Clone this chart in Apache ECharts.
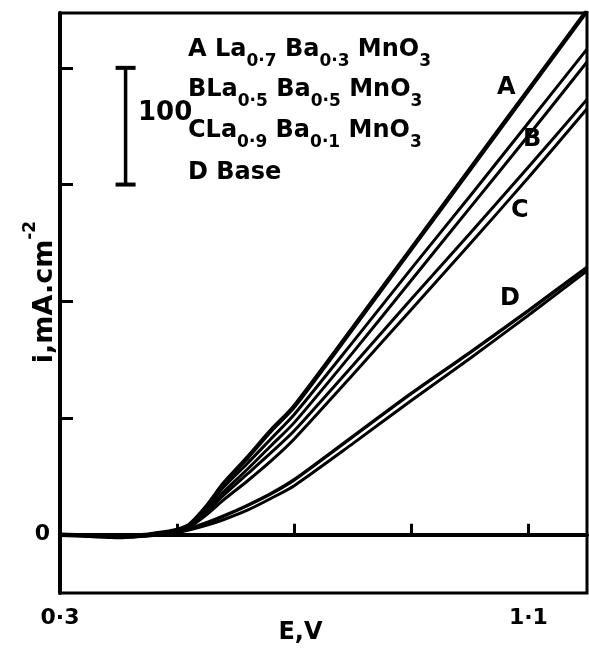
<!DOCTYPE html>
<html>
<head>
<meta charset="utf-8">
<script src="https://cdn.jsdelivr.net/npm/echarts@6/dist/echarts.min.js"></script>
<style>
  html, body { margin: 0; padding: 0; background: #fff; }
  #chart { width: 589px; height: 651px; }
</style>
</head>
<body>
<div id="chart"></div>
<script>
// E, V  (shared x values for all curves)
const volts = [0.30, 0.35, 0.40, 0.45, 0.48, 0.50, 0.52, 0.55, 0.58, 0.62, 0.66, 0.70, 0.80, 0.90, 1.00, 1.10, 1.20];

// i, mA.cm-2
const curveA  = [0, -1, -2, 0, 2, 4, 8, 24, 44, 66, 89, 110, 177, 245, 313, 381, 449];
const curveB1 = [0, -1, -2, 0, 2, 4, 8, 23, 41, 61, 82, 103, 165, 228, 290, 353, 416];
const curveB2 = [0, -1, -2, 0, 2, 3, 7, 21, 37, 56, 76, 96, 156, 218, 280, 342, 405];
const curveC1 = [0, -1, -2, 0, 2, 3, 7, 19, 34, 52, 70, 89, 145, 202, 258, 315, 373];
const curveC2 = [0, -1, -2, 0, 2, 3, 6, 17, 30, 46, 63, 82, 137, 193, 249, 306, 365];
const curveD1 = [0, -1, -2, -1, 1, 3, 5, 10, 16, 25, 35, 47, 84, 121, 156, 192, 229];
const curveD2 = [0, -1, -2, -1, 1, 2, 4, 8, 13, 21, 31, 42, 78, 115, 151, 188, 226];

// 100 mA.cm-2 scale bar
const scaleX = [0.412, 0.412];
const scaleY = [300, 400];

const xTicks = [0.3, 0.5, 0.7, 0.9, 1.1];
const xLabels = [0.3, 1.1];
const yTicks = [0, 100, 200, 300, 400];
const yLabels = [0];

const legendRows = [
  "{m|A La}{s|0·7}{m| Ba}{s|0·3}{m| MnO}{s|3}",
  "{m|BLa}{s|0·5}{m| Ba}{s|0·5}{m| MnO}{s|3}",
  "{m|CLa}{s|0·9}{m| Ba}{s|0·1}{m| MnO}{s|3}",
  "{m|D Base}"
];

const font = "DejaVu Sans";

function pairs(xs, ys) {
  return xs.map((x, i) => [x, ys[i]]);
}

function curve(name, ys, w) {
  return {
    name: name,
    type: "line",
    data: pairs(volts, ys),
    smooth: 0.25,
    symbol: "none",
    clip: true,
    lineStyle: { color: "#000", width: w }
  };
}

let mychart = echarts.init(document.getElementById("chart"));
mychart.setOption({
  animation: false,
  backgroundColor: "#fff",
  grid: {
    left: 60,
    right: 2,
    top: 13,
    bottom: 58,
    outerBoundsMode: "none",
    containLabel: false,
    show: true,
    borderColor: "#000",
    borderWidth: 3
  },
  xAxis: {
    type: "value",
    min: 0.3,
    max: 1.2,
    name: "E,V",
    nameLocation: "middle",
    nameGap: 28,
    nameMoveOverlap: false,
    nameTextStyle: { fontFamily: font, fontWeight: "bold", fontSize: 24, color: "#000", padding: [0, 46, 0, 0] },
    axisLine: { lineStyle: { color: "#000", width: 4 } },
    axisTick: { inside: true, length: 11, customValues: xTicks, lineStyle: { color: "#000", width: 3 } },
    axisLabel: {
      customValues: xLabels,
      margin: 14,
      fontFamily: font,
      fontWeight: "bold",
      fontSize: 22,
      color: "#000",
      formatter: v => String(Math.round(v * 10) / 10).replace(".", "·")
    },
    splitLine: { show: false }
  },
  yAxis: {
    type: "value",
    min: -50,
    max: 447,
    axisLine: { lineStyle: { color: "#000", width: 4 } },
    axisTick: { inside: true, length: 13, customValues: yTicks, lineStyle: { color: "#000", width: 3 } },
    axisLabel: {
      customValues: yLabels,
      margin: 10,
      fontFamily: font,
      fontWeight: "bold",
      fontSize: 22,
      color: "#000"
    },
    splitLine: { show: false }
  },
  series: [
    curve("A", curveA, 4.5),
    curve("B1", curveB1, 3),
    curve("B2", curveB2, 3),
    curve("C1", curveC1, 3),
    curve("C2", curveC2, 3),
    curve("D1", curveD1, 3.5),
    curve("D2", curveD2, 3),
    {
      name: "scale",
      type: "line",
      data: pairs(scaleX, scaleY),
      symbol: "rect",
      symbolSize: [20, 4],
      itemStyle: { color: "#000" },
      lineStyle: { color: "#000", width: 3.5 }
    }
  ],
  graphic: [
    {
      // y axis name
      type: "text",
      x: 40,
      y: 292,
      rotation: Math.PI / 2,
      style: {
        text: "{m|i,mA.cm}{p|-2}",
        align: "center",
        verticalAlign: "middle",
        rich: {
          m: { font: "bold 27px " + font, fill: "#000", lineHeight: 36, verticalAlign: "bottom" },
          p: { font: "bold 17px " + font, fill: "#000", lineHeight: 36, verticalAlign: "top" }
        }
      }
    },
    {
      type: "text",
      left: 138,
      top: 100,
      style: { text: "100", font: "bold 26px " + font, fill: "#000" }
    },
    ...legendRows.map((row, k) => ({
      type: "text",
      left: 188,
      top: [38, 78, 119, 161][k],
      style: {
        text: row,
        rich: {
          m: { font: "bold 24px " + font, fill: "#000", lineHeight: 24, verticalAlign: "top" },
          s: { font: "bold 17px " + font, fill: "#000", lineHeight: 32, verticalAlign: "bottom" }
        }
      }
    })),
    { type: "text", left: 497, top: 76, style: { text: "A", font: "bold 24px " + font, fill: "#000" } },
    { type: "text", left: 523, top: 128, style: { text: "B", font: "bold 24px " + font, fill: "#000" } },
    { type: "text", left: 511, top: 199, style: { text: "C", font: "bold 24px " + font, fill: "#000" } },
    { type: "text", left: 500, top: 287, style: { text: "D", font: "bold 24px " + font, fill: "#000" } }
  ]
});
window.addEventListener("resize", () => {
  mychart.resize();
});
</script>
</body>
</html>
